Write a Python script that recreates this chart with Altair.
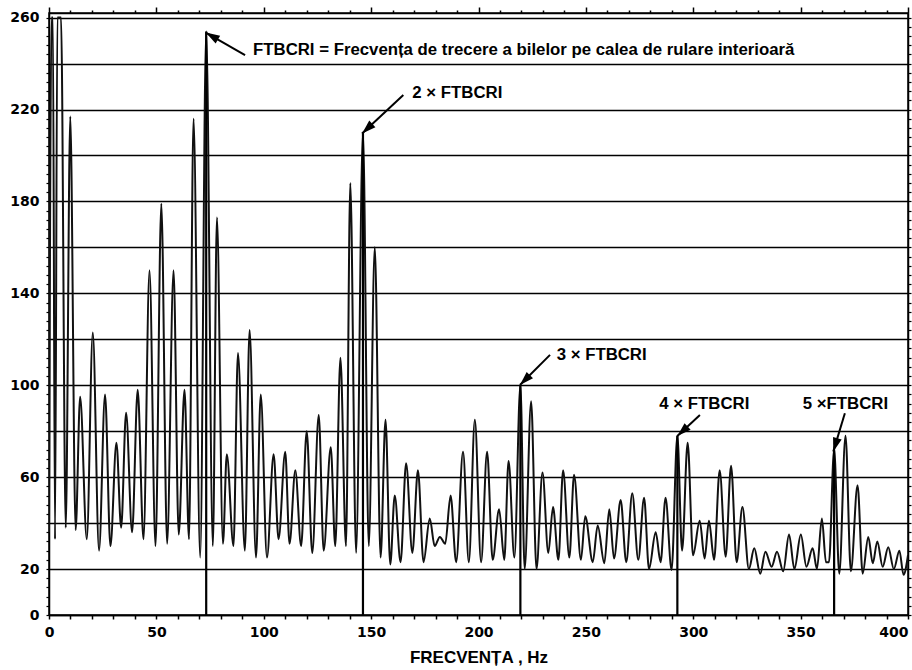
import altair as alt
import pandas as pd

# Vibration spectrum of a rolling bearing: local maxima / minima of the trace
freq_hz = [
    0.0, 1.2, 1.8, 2.8, 3.9, 5.6, 7.8, 9.9, 12.4, 14.5,
    17.6, 20.4, 23.3, 26.1, 28.6, 31.4, 33.6, 35.9, 38.7, 41.3,
    44.0, 46.8, 49.6, 52.3, 55.0, 58.0, 60.4, 63.1, 65.2, 67.3,
    70.4, 73.2, 76.3, 78.2, 81.0, 82.8, 85.9, 88.0, 91.2, 93.4,
    96.4, 98.6, 101.5, 104.6, 106.9, 110.0, 112.0, 114.7, 117.4, 120.0,
    122.6, 125.6, 127.9, 131.2, 133.3, 135.7, 138.3, 140.3, 143.0, 146.2,
    148.9, 151.7, 154.4, 156.7, 158.9, 161.0, 163.7, 166.3, 169.2, 171.8,
    174.4, 177.3, 179.6, 182.0, 184.5, 187.0, 189.6, 192.8, 195.5, 198.3,
    201.2, 204.0, 206.6, 209.6, 212.0, 214.0, 216.7, 219.5, 221.5, 224.5,
    227.0, 229.8, 232.5, 234.7, 237.2, 239.4, 242.3, 244.5, 247.7, 249.7,
    253.2, 255.5, 258.6, 260.9, 263.1, 266.2, 268.8, 271.6, 274.4, 277.1,
    279.4, 282.5, 284.8, 287.1, 289.9, 292.6, 294.8, 297.4, 299.9, 303.0,
    305.3, 307.3, 309.7, 312.3, 315.1, 317.6, 320.2, 322.9, 325.9, 328.4,
    331.2, 333.6, 336.5, 339.0, 341.9, 344.6, 347.1, 350.1, 352.7, 355.6,
    357.6, 359.9, 361.8, 363.2, 365.6, 368.0, 370.9, 373.4, 376.5, 378.9,
    381.5, 383.6, 385.7, 388.2, 390.8, 393.4, 396.0, 397.9, 400.0,
]

amplitude = [
    36, 260, 260, 33, 260, 260, 38, 217, 37, 95,
    33, 123, 28, 96, 30, 75, 38, 88, 36, 98,
    33, 150, 30, 179, 31, 150, 35, 98, 33, 216,
    25, 254, 30, 173, 31, 70, 30, 114, 28, 124,
    25, 96, 25, 70, 33, 71, 31, 63, 30, 80,
    27, 87, 28, 73, 30, 112, 30, 188, 27, 210,
    30, 160, 25, 85, 22, 52, 23, 66, 27, 63,
    23, 42, 30, 34, 31, 52, 23, 71, 23, 85,
    23, 71, 24, 46, 24, 67, 25, 100, 20, 93,
    20, 62, 27, 47, 24, 63, 25, 61, 24, 43,
    23, 39, 22.5, 46, 24.6, 50, 23, 53, 24, 51,
    20, 36, 23, 51, 19.6, 78, 28, 75, 26, 41,
    24.6, 41, 24, 63, 25.4, 65, 23, 47, 20, 29,
    18, 27.5, 21, 27.5, 19, 35, 20, 35, 21, 29,
    20, 42, 23, 23, 72, 18, 78, 19, 56.5, 18,
    34, 22.5, 32, 21, 29.5, 20, 28, 17.5, 26,
]

# Inner-race ball pass frequency (FTBCRI) and its harmonics
harmonic_hz = [73.2, 146.2, 219.5, 292.6, 365.6]

# Annotation texts and their anchors (frequency, amplitude)
label_text = [
    "FTBCRI = Frecvența de trecere a bilelor pe calea de rulare interioară",
    "2 × FTBCRI",
    "3 × FTBCRI",
    "4 × FTBCRI",
    "5 ×FTBCRI",
]
label_hz = [95.0, 169.2, 236.4, 284.2, 351.0]
label_amp = [245.9, 227.0, 113.1, 92.0, 92.0]

# Arrows: tail -> tip, with head rotation in degrees
arrow_tail_hz = [91.3, 165.0, 233.3, 303.1, 370.6]
arrow_tail_amp = [243.7, 226.3, 113.2, 87.0, 87.8]
arrow_tip_hz = [73.0, 145.8, 219.3, 292.6, 365.2]
arrow_tip_amp = [253.5, 209.6, 100.1, 77.9, 71.1]
arrow_angle = [300, 227, 225, 227, 197]

spectrum = pd.DataFrame({"hz": freq_hz, "amp": amplitude})
lookup = dict(zip(freq_hz, amplitude))
harmonics = pd.DataFrame({
    "hz": harmonic_hz,
    "base": [0] * len(harmonic_hz),
    "amp": [lookup[h] for h in harmonic_hz],
})
labels = pd.DataFrame({"text": label_text, "hz": label_hz, "amp": label_amp})
arrows = pd.DataFrame({
    "x0": arrow_tail_hz, "y0": arrow_tail_amp,
    "x1": arrow_tip_hz, "y1": arrow_tip_amp,
    "angle": arrow_angle,
})

xs = alt.Scale(domain=[0, 400], nice=False, zero=False)
ys = alt.Scale(domain=[0, 262], nice=False, zero=False)

tick_font = "DejaVu Sans"
text_font = "Liberation Sans"

x_bottom = alt.Axis(
    orient="bottom", values=list(range(0, 401, 10)),
    labelExpr="datum.value % 50 === 0 ? datum.label : ''",
    labelAlign={"condition": {"test": "datum.value === 400", "value": "right"}, "value": "center"},
    grid=False, tickSize=4, tickWidth=1.5, tickColor="black",
    domainColor="black", domainWidth=1.5,
    labelFont=tick_font, labelFontWeight="bold", labelFontSize=14,
    labelColor="black", labelPadding=6, labelOverlap=False, labelFlush=False,
    title="FRECVENȚA , Hz", titleFont=text_font, titleFontSize=17,
    titleFontWeight="bold", titleColor="black", titlePadding=10,
)
y_left = alt.Axis(
    orient="left", values=list(range(0, 261, 4)),
    labelExpr="datum.value === 0 || datum.value % 40 === 20 ? datum.label : ''",
    grid=True, gridColor="black", gridWidth=1.6,
    gridOpacity={"condition": {"test": "datum.value % 20 === 0", "value": 1}, "value": 0},
    tickSize=3, tickWidth=1.2, tickColor="black",
    domainColor="black", domainWidth=1.5,
    labelFont=tick_font, labelFontWeight="bold", labelFontSize=14,
    labelColor="black", labelPadding=7, labelOverlap=False, labelFlush=False,
    title=None,
)
x_top = alt.Axis(
    orient="top", values=list(range(0, 401, 10)), labels=False, grid=False,
    tickSize={"condition": {"test": "datum.value % 50 === 0", "value": 6}, "value": 3},
    tickWidth=1.5, tickColor="black", domainColor="black", domainWidth=1.5,
    title=None,
)
y_right = alt.Axis(
    orient="right", values=list(range(0, 261, 4)), labels=False, grid=False,
    tickSize=3, tickWidth=1.2, tickColor="black",
    domainColor="black", domainWidth=1.5, title=None,
)

trace = alt.Chart(spectrum).mark_line(
    color="#111111", strokeWidth=2, interpolate="monotone", clip=True
).encode(
    x=alt.X("hz:Q", scale=xs, axis=x_bottom),
    y=alt.Y("amp:Q", scale=ys, axis=y_left),
)

markers = alt.Chart(harmonics).mark_rule(color="black", strokeWidth=2.2).encode(
    x=alt.X("hz:Q", scale=xs, axis=x_top),
    y=alt.Y("base:Q", scale=ys, axis=y_right),
    y2="amp:Q",
)

shafts = alt.Chart(arrows).mark_rule(color="black", strokeWidth=2).encode(
    x=alt.X("x0:Q", scale=xs, axis=None),
    y=alt.Y("y0:Q", scale=ys, axis=None),
    x2="x1:Q",
    y2="y1:Q",
)

heads = alt.Chart(arrows).mark_point(
    shape="M0,0L-0.9,2.8L0.9,2.8Z", filled=True, color="black",
    size=100, opacity=1,
).encode(
    x=alt.X("x1:Q", scale=xs, axis=None),
    y=alt.Y("y1:Q", scale=ys, axis=None),
    angle=alt.Angle("angle:Q", scale=None),
)

notes = alt.Chart(labels).mark_text(
    align="left", baseline="middle", font=text_font, fontWeight="bold",
    fontSize=16.8, color="black",
).encode(
    x=alt.X("hz:Q", scale=xs, axis=None),
    y=alt.Y("amp:Q", scale=ys, axis=None),
    text="text:N",
)

chart = (
    alt.layer(trace, markers, shafts, heads, notes)
    .resolve_axis(x="independent", y="independent")
    .properties(
        width=859, height=602,
        autosize=alt.AutoSizeParams(type="none"),
        padding={"left": 49, "top": 13, "right": 4, "bottom": 55},
        background="white",
    )
    .configure_view(stroke="black", strokeWidth=1.5)
)

chart.save("out.html", embed_options={"renderer": "svg", "actions": False})
